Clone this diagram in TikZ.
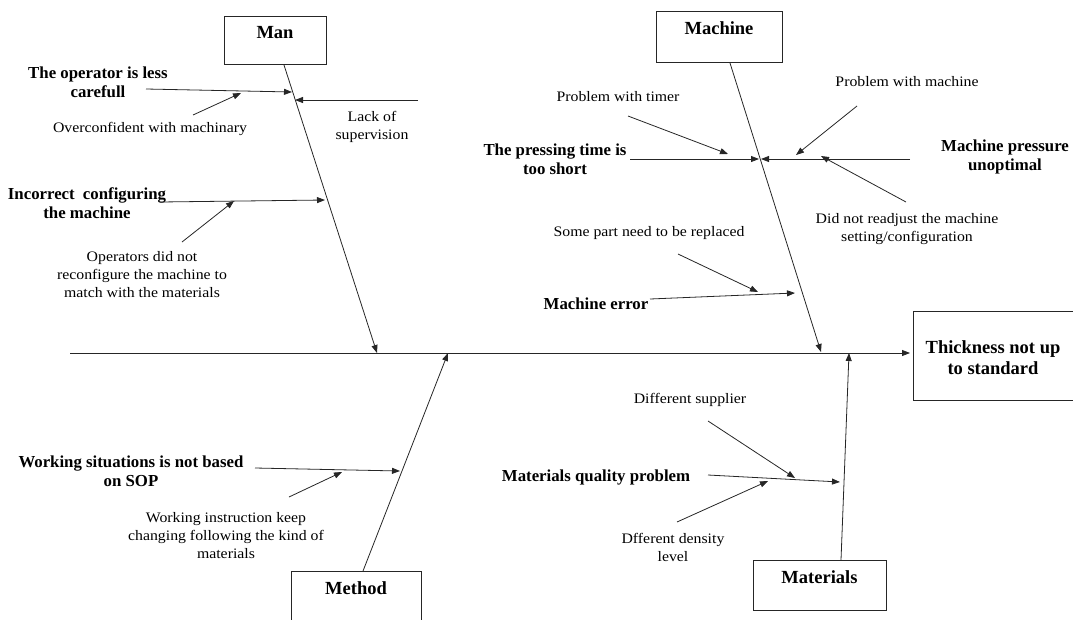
\documentclass[tikz,border=0pt]{standalone}
\usepackage{fontspec}
\setmainfont{Liberation Serif}
\newfontfamily\regfont[FakeStretch=1.09]{Liberation Serif}
\usetikzlibrary{arrows.meta}
\tikzset{
  ln/.style={draw=black!85, line width=0.8pt},
  arr/.style={ln, -{Triangle[length=8pt,width=6pt]}},
  catbox/.style={draw=black!85, line width=0.8pt, fill=white, inner sep=0pt},
  catlbl/.style={font=\fontsize{18.5}{21}\selectfont\bfseries, align=center, inner sep=0pt},
  big/.style={font=\fontsize{16.8}{19}\selectfont\bfseries, align=center, inner sep=0pt},
  sml/.style={font=\regfont\fontsize{14.5}{18}\selectfont, align=center, inner sep=0pt},
}
\begin{document}
\begin{tikzpicture}[x=1pt,y=-1pt]
\useasboundingbox (0,0) rectangle (1073,619);
% category boxes
\node[catbox, minimum width=102pt, minimum height=48pt] (manbox) at (275,40) {};
\node[catlbl] (manlbl) at (275,33) {Man};
\node[catbox, minimum width=126pt, minimum height=51pt] (machbox) at (719,36.5) {};
\node[catlbl] (machlbl) at (719,28) {Machine};
\node[catbox, minimum width=130pt, minimum height=59pt] (methbox) at (356,600.5) {};
\node[catlbl] (methlbl) at (356,588) {Method};
\node[catbox, minimum width=133pt, minimum height=50pt] (matbox) at (819.5,585) {};
\node[catlbl] (matlbl) at (819.5,577) {Materials};
\node[catbox, minimum width=165pt, minimum height=89pt] (effbox) at (995.5,355.5) {};
\node[catlbl] (efflbl) at (993,357.5) {Thickness not up\\to standard};

% main spine
\coordinate (m0) at (70,353);
\coordinate (mEnd) at (910,353);
\draw[arr] (m0) -- (mEnd);

% Man
\coordinate (manS) at (284,65);
\coordinate (manT) at (377,353);
\draw[arr] (manS) -- (manT);
\node[big] (opl) at (98,82.5) {The operator is less\\carefull};
\coordinate (op0) at (146,89);
\coordinate (op1) at (292,92);
\draw[arr] (op0) -- (op1);
\node[sml] (ovl) at (150,129) {Overconfident with machinary};
\coordinate (ov0) at (193,115);
\coordinate (ov1) at (241,93);
\draw[arr] (ov0) -- (ov1);
\node[sml] (lsl) at (372,127) {Lack of\\supervision};
\coordinate (ls0) at (418,100);
\coordinate (ls1) at (295,100);
\draw[arr] (ls0) -- (ls1);
\node[big] (icl) at (87,203.5) {Incorrect\hspace{4pt} configuring\\the machine};
\coordinate (ic0) at (160,202);
\coordinate (ic1) at (325,200);
\draw[arr] (ic0) -- (ic1);
\node[sml] (odl) at (142,275) {Operators did not\\reconfigure the machine to\\match with the materials};
\coordinate (od0) at (182,242);
\coordinate (od1) at (234,201);
\draw[arr] (od0) -- (od1);

% Machine
\coordinate (machS) at (730,63);
\coordinate (machT) at (821,352);
\draw[arr] (machS) -- (machT);
\node[big] (ptl) at (555,159.5) {The pressing time is\\too short};
\coordinate (pt0) at (630,159);
\coordinate (pt1) at (759,159);
\draw[arr] (pt0) -- (pt1);
\node[big] (mpl) at (1005,156.5) {Machine pressure\\unoptimal};
\coordinate (mp0) at (910,159);
\coordinate (mp1) at (761,159);
\draw[arr] (mp0) -- (mp1);
\node[sml] (tml) at (618,97) {Problem with timer};
\coordinate (tm0) at (628,116);
\coordinate (tm1) at (728,154);
\draw[arr] (tm0) -- (tm1);
\node[sml] (pml) at (907,82) {Problem with machine};
\coordinate (pm0) at (857,106);
\coordinate (pm1) at (796,155);
\draw[arr] (pm0) -- (pm1);
\node[sml] (drl) at (907,229.5) {Did not readjust the machine\\setting/configuration};
\coordinate (dr0) at (906,202);
\coordinate (dr1) at (821,156);
\draw[arr] (dr0) -- (dr1);
\node[big] (mel) at (596,304) {Machine error};
\coordinate (me0) at (650,299);
\coordinate (me1) at (795,293);
\draw[arr] (me0) -- (me1);
\node[sml] (spl) at (649,233) {Some part need to be replaced};
\coordinate (sp0) at (678,254);
\coordinate (sp1) at (758,292);
\draw[arr] (sp0) -- (sp1);

% Method
\coordinate (methS) at (363,571);
\coordinate (methT) at (448,353);
\draw[arr] (methS) -- (methT);
\node[big] (wsl) at (131,471.5) {Working situations is not based\\on SOP};
\coordinate (ws0) at (255,468);
\coordinate (ws1) at (400,471);
\draw[arr] (ws0) -- (ws1);
\node[sml] (wil) at (226,535.5) {Working instruction keep\\changing following the kind of\\materials};
\coordinate (wi0) at (289,497);
\coordinate (wi1) at (342,472);
\draw[arr] (wi0) -- (wi1);

% Materials
\coordinate (matS) at (841,560);
\coordinate (matT) at (849,353);
\draw[arr] (matS) -- (matT);
\node[big] (mql) at (596,477) {Materials quality problem};
\coordinate (mq0) at (708,475);
\coordinate (mq1) at (840,482);
\draw[arr] (mq0) -- (mq1);
\node[sml] (dsl) at (690,400) {Different supplier};
\coordinate (ds0) at (708,421);
\coordinate (ds1) at (795,478);
\draw[arr] (ds0) -- (ds1);
\node[sml] (ddl) at (673,547) {Dfferent density\\level};
\coordinate (dd0) at (677,522);
\coordinate (dd1) at (768,481);
\draw[arr] (dd0) -- (dd1);
\end{tikzpicture}
\end{document}
